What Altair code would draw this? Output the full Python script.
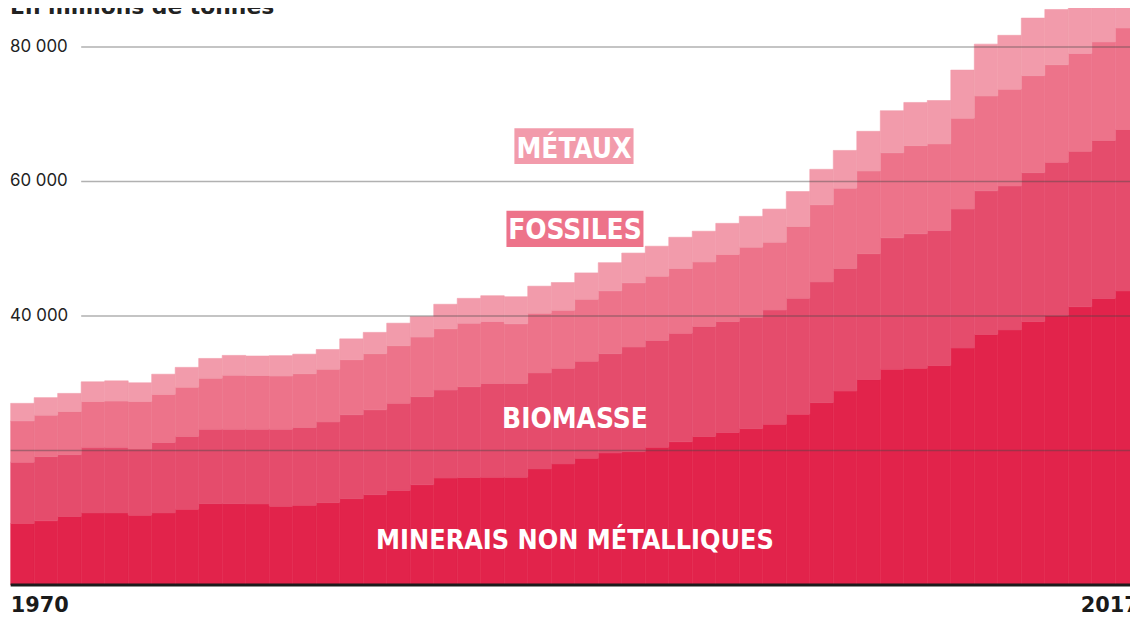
import altair as alt
import pandas as pd

# Extraction mondiale de matières, en millions de tonnes
years = list(range(1970, 2018))
mineraux = [9150, 9550, 10180, 10730, 10730, 10380, 10730, 11260, 12100, 12100,
            12060, 11730, 11850, 12250, 12840, 13430, 14070, 14910, 15900, 15990,
            16020, 16020, 17270, 18010, 18850, 19630, 19820, 20470, 21300, 22100,
            22690, 23250, 23910, 25390, 27110, 28830, 30550, 32070, 32220, 32620,
            35230, 37240, 37930, 39160, 40070, 41370, 42610, 43720]
biomasse = [9110, 9540, 9200, 9740, 9740, 9850, 10480, 10830, 11070, 11070,
            11110, 11440, 11570, 12000, 12470, 12620, 12950, 13090, 13080, 13490,
            13950, 13950, 14270, 14210, 14410, 14760, 15560, 15880, 16150, 16330,
            16470, 16560, 16970, 17230, 17950, 18210, 18700, 19540, 19990, 20070,
            20660, 21360, 21400, 22140, 22800, 23130, 23470, 23990]
fossiles = [6140, 6160, 6410, 6830, 6880, 7040, 7130, 7320, 7570, 8020,
            7970, 7900, 7990, 7820, 8190, 8340, 8560, 8860, 9110, 9450,
            9200, 8860, 8860, 8620, 9210, 9340, 9540, 9550, 9590, 9590,
            9990, 10420, 10080, 10670, 11470, 11960, 12300, 12640, 13110, 12890,
            13520, 14100, 14390, 14420, 14470, 14510, 14660, 15100]
metaux = [2610, 2610, 2700, 2910, 3010, 2800, 3000, 2950, 2950, 2950,
          2910, 3030, 2910, 2950, 3100, 3170, 3350, 3040, 3650, 3690,
          3840, 4030, 4030, 4130, 3930, 4190, 4430, 4470, 4660, 4580,
          4620, 4580, 4930, 5210, 5270, 5610, 5900, 6260, 6420, 6450,
          7140, 7710, 8000, 8560, 8220, 8520, 8860, 9150]

categories = ["Minerais non métalliques", "Biomasse", "Fossiles", "Métaux"]
colors = ["#e2234b", "#e54c6c", "#ed738a", "#f29bab"]
series = [mineraux, biomasse, fossiles, metaux]

grid_values = [40000, 60000, 80000]
grid_labels = ["40 000", "60 000", "80 000"]
inner_grid = [20000]

rows = []
for order, (cat, vals) in enumerate(zip(categories, series)):
    for y, v in zip(years, vals):
        rows.append({"year": y, "category": cat, "value": v, "order": order})
df = pd.DataFrame(rows)

xscale = alt.Scale(domain=[1969.5, 2017.5], range=[2.7, 1138.9], nice=False, zero=False)
yscale = alt.Scale(domain=[0, 80000], range=[587, 45], nice=False, zero=False)
cscale = alt.Scale(domain=categories, range=colors)

bars = (
    alt.Chart(df)
    .transform_calculate(x0="datum.year - 0.5", x1="datum.year + 0.5")
    .transform_stack(stack="value", groupby=["year"], as_=["v0", "v1"],
                     sort=[alt.SortField("order", "ascending")])
    .mark_rect(strokeWidth=0.6)
    .encode(
        x=alt.X("x0:Q", scale=xscale, axis=None),
        x2="x1:Q",
        y=alt.Y("v1:Q", scale=yscale, axis=None),
        y2="v0:Q",
        color=alt.Color("category:N", scale=cscale, legend=None),
        stroke=alt.Stroke("category:N", scale=cscale, legend=None),
    )
)

grid_df = pd.DataFrame({"v": grid_values, "label": grid_labels})
grid = alt.Chart(grid_df).mark_rule(color="#444444", opacity=0.42, strokeWidth=1.5).encode(
    y=alt.Y("v:Q", scale=yscale, axis=None), x=alt.value(73.7), x2=alt.value(1130)
)
grid_in = alt.Chart(pd.DataFrame({"v": inner_grid})).mark_rule(
    color="#444444", opacity=0.42, strokeWidth=1.5
).encode(y=alt.Y("v:Q", scale=yscale, axis=None), x=alt.value(2.7), x2=alt.value(1130))

grid_text = alt.Chart(grid_df).mark_text(
    align="left", baseline="middle", font="Inter", fontSize=17, color="#222222"
).encode(y=alt.Y("v:Q", scale=yscale, axis=None), x=alt.value(2), text="label:N")

baseline = alt.Chart(pd.DataFrame({"v": [0]})).mark_rule(color="#1b1b1b", strokeWidth=3).encode(
    y=alt.Y("v:Q", scale=yscale, axis=None), x=alt.value(2.7), x2=alt.value(1130)
)

year_left = alt.Chart(pd.DataFrame({"x": [1969.5], "t": ["1970"]})).mark_text(
    align="left", baseline="middle", font="DejaVu Sans", fontWeight="bold", fontSize=21, color="#1a1a1a"
).encode(x=alt.X("x:Q", scale=xscale, axis=None), y=alt.value(608), text="t:N")
year_right = alt.Chart(pd.DataFrame({"x": [2017.5], "t": ["2017"]})).mark_text(
    align="right", baseline="middle", font="DejaVu Sans", fontWeight="bold", fontSize=21, color="#1a1a1a"
).encode(x=alt.X("x:Q", scale=xscale, axis=None), y=alt.value(608), text="t:N")

title = alt.Chart(pd.DataFrame({"t": ["En millions de tonnes"]})).mark_text(
    align="left", baseline="alphabetic", font="DejaVu Sans", fontWeight="bold", fontSize=22, color="#222222"
).encode(x=alt.value(2), y=alt.value(12), text="t:N")

# label boxes
box_met = alt.Chart(pd.DataFrame({"k": [0]})).mark_rect(color=colors[3]).encode(
    x=alt.value(510), x2=alt.value(630), y=alt.value(127), y2=alt.value(163)
)
box_fos = alt.Chart(pd.DataFrame({"k": [0]})).mark_rect(color=colors[2]).encode(
    x=alt.value(502), x2=alt.value(640), y=alt.value(210), y2=alt.value(246.5)
)

label_font = "Liberation Sans Narrow, DejaVu Sans Condensed, sans-serif"
labels = [
    ("MÉTAUX", 570, 156.7, 28),
    ("FOSSILES", 571, 238.5, 28),
    ("BIOMASSE", 571, 429.2, 28),
    ("MINERAIS NON MÉTALLIQUES", 571, 551, 27),
]
label_layers = []
for txt, lx, ly, fs in labels:
    label_layers.append(
        alt.Chart(pd.DataFrame({"t": [txt]})).mark_text(
            align="center", baseline="alphabetic", font=label_font, fontWeight="bold",
            fontSize=fs, color="white"
        ).encode(x=alt.value(lx), y=alt.value(ly), text="t:N")
    )

chart = (
    alt.layer(bars, grid, grid_in, baseline, grid_text, year_left, year_right, title,
              box_met, box_fos, *label_layers)
    .properties(width=1130, height=617, autosize=alt.AutoSizeParams(type="none"),
                padding={"left": 0, "top": -8, "right": 0, "bottom": 0},
                background="white")
    .configure_view(stroke=None)
)

chart.save("out.html", embed_options={"renderer": "svg", "actions": False})
